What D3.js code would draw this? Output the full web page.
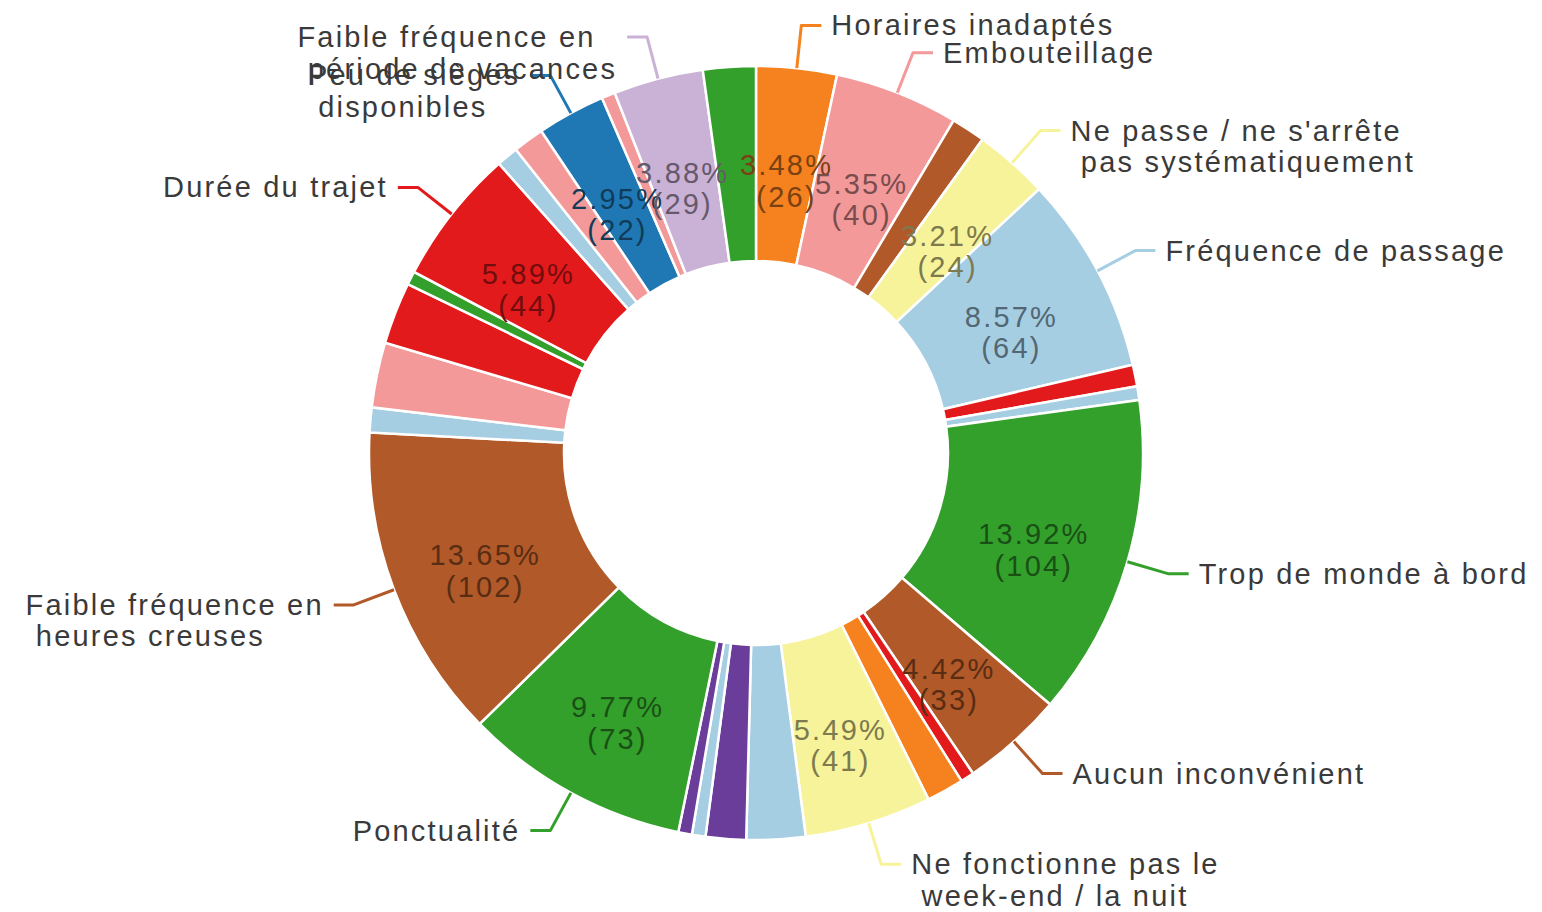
<!DOCTYPE html>
<html>
<head>
<meta charset="utf-8">
<script src="https://cdn.jsdelivr.net/npm/d3@7"></script>
<style>
  html, body { margin: 0; padding: 0; background: #ffffff; }
  svg text { font-family: "Liberation Sans", Arial, sans-serif; }
</style>
</head>
<body>
<svg id="chart" width="1542" height="912"></svg>
<script>
// Reasons given for dissatisfaction, in drawing order (clockwise from 12 o'clock).
// Empty names are minor answers that carry no label on the ring.
const categories = [
  "Horaires inadaptés", "Embouteillage", "", "Ne passe / ne s'arrête\npas systématiquement",
  "Fréquence de passage", "", "", "Trop de monde à bord", "Aucun inconvénient", "", "",
  "Ne fonctionne pas le\nweek-end / la nuit", "", "", "", "", "Ponctualité",
  "Faible fréquence en\nheures creuses", "", "", "", "", "Durée du trajet", "", "",
  "Peu de sièges\ndisponibles", "", "Faible fréquence en\npériode de vacances", ""
];
const values = [
  26, 40, 11, 24,
  64, 7, 0, 104, 33, 0, 12,
  41, 19, 13, 0, 0, 73,
  102, 8, 21, 20, 0, 44, 7, 10,
  22, 0, 29, 17
];
const sliceColors = [
  "#f5821f", "#f4999a", "#b15928", "#f7f39b",
  "#a6cee3", "#e31a1c", "#a6cee3", "#33a02c", "#b15928", "#e31a1c", "#f5821f",
  "#f7f39b", "#a6cee3", "#6a3d9a", "#a6cee3", "#6a3d9a", "#33a02c",
  "#b15928", "#a6cee3", "#f4999a", "#e31a1c", "#33a02c", "#e31a1c", "#a6cee3", "#f4999a",
  "#1f78b4", "#f4999a", "#cab2d6", "#33a02c"
];

const W = 1542, H = 912;
const cx = 756, cy = 453;
const rOuter = 387, rInner = 192;
const minAngle = 2.04 * Math.PI / 180;      // smallest sector drawn
const minLabelAngle = 10 * Math.PI / 180;   // sectors below this get no labels
const lineH = 31.5;

const data = categories.map((name, i) => ({ name, value: values[i], color: sliceColors[i] }));
const total = d3.sum(values);

// Sectors narrower than minAngle are widened to it; the rest share what is left.
const isSmall = data.map(d => d.value / total * 2 * Math.PI < minAngle);
const nSmall = isSmall.filter(Boolean).length;
const sumLarge = d3.sum(data.filter((d, i) => !isSmall[i]), d => d.value);
const angleScale = d3.scaleLinear()
  .domain([0, sumLarge])
  .range([0, 2 * Math.PI - nSmall * minAngle]);
const smallWeight = angleScale.invert(minAngle);

const pie = d3.pie()
  .sort(null)
  .value((d, i) => isSmall[i] ? smallWeight : d.value);
const arcs = pie(data);

const arc = d3.arc().innerRadius(rInner).outerRadius(rOuter);

const svg = d3.select("#chart");
svg.append("rect").attr("width", W).attr("height", H).attr("fill", "#ffffff");
const g = svg.append("g").attr("transform", `translate(${cx},${cy})`);

g.selectAll("path.slice")
  .data(arcs)
  .join("path")
  .attr("class", "slice")
  .attr("d", arc)
  .attr("fill", d => d.data.color)
  .attr("stroke", "#ffffff")
  .attr("stroke-width", 2.5);

const labelled = arcs.filter(d => d.endAngle - d.startAngle >= minLabelAngle);
const pct = d3.format(".2f");
const font = { size: 29, spacing: 2.2 };

// Value labels inside the ring
const inner = g.selectAll("text.inner")
  .data(labelled)
  .join("text")
  .attr("class", "inner")
  .attr("font-size", font.size)
  .attr("letter-spacing", font.spacing)
  .attr("text-anchor", "middle")
  .attr("dominant-baseline", "central")
  .attr("fill", d => {
    const c = d3.rgb(d.data.color);
    return d3.rgb(c.r * 0.5, c.g * 0.5, c.b * 0.5).formatHex();
  });
inner.each(function (d) {
  const [x, y] = arc.centroid(d);
  const t = d3.select(this);
  t.append("tspan").attr("x", x).attr("y", y).text(pct(d.data.value / total * 100) + "%");
  t.append("tspan").attr("x", x).attr("y", y + lineH).text("(" + d.data.value + ")");
});

// Category labels with leader lines
const lenRadial = 43, lenFlat = 20, gap = 10;
labelled.forEach(d => {
  const mid = (d.startAngle + d.endAngle) / 2;
  const sx = Math.sin(mid), sy = -Math.cos(mid);
  const p1 = [sx * rOuter, sy * rOuter];
  const p2 = [sx * (rOuter + lenRadial), sy * (rOuter + lenRadial)];
  const right = sx >= 0;
  const p3 = [p2[0] + (right ? lenFlat : -lenFlat), p2[1]];

  g.append("polyline")
    .attr("points", [p1, p2, p3].map(p => p.join(",")).join(" "))
    .attr("fill", "none")
    .attr("stroke", d.data.color)
    .attr("stroke-width", 3)
    .attr("stroke-linejoin", "round");

  const lines = d.data.name.split("\n");
  const t = g.append("text")
    .attr("font-size", font.size)
    .attr("letter-spacing", font.spacing)
    .attr("dominant-baseline", "central")
    .attr("fill", "#3a3a3a");
  const spans = lines.map((ln, i) =>
    t.append("tspan").attr("y", p2[1] + i * lineH).text(ln));

  // wrapped lines keep the breaking space as a small indent
  const space = t.append("tspan").text("\u00a0");
  const indent = space.node().getComputedTextLength();
  space.remove();

  const widths = spans.map((s, i) => s.node().getComputedTextLength() + (i ? indent : 0));
  const blockW = d3.max(widths);
  const left = right ? p3[0] + gap : p3[0] - gap - blockW;
  spans.forEach((s, i) => s.attr("x", left + (i ? indent : 0)));
});
</script>
</body>
</html>
